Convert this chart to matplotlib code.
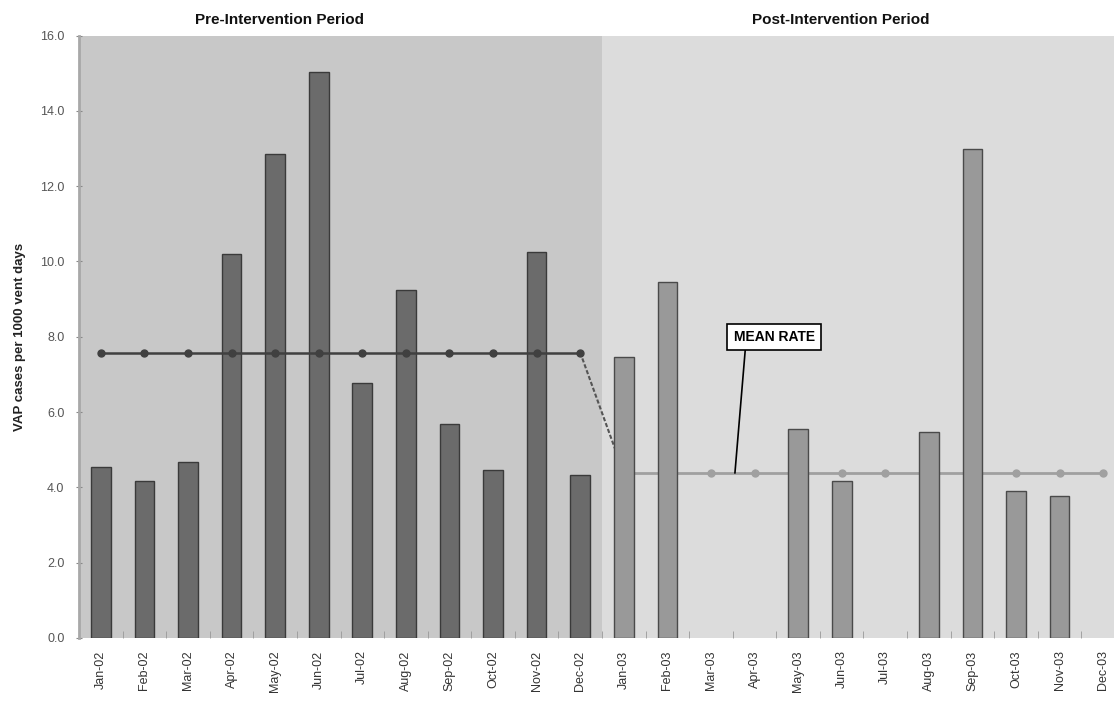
import matplotlib

matplotlib.use("Agg")
import matplotlib.pyplot as plt
from matplotlib.transforms import blended_transform_factory
import numpy as np

plt.rcParams["font.family"] = ["Liberation Sans", "DejaVu Sans"]

# data
months = ["Jan", "Feb", "Mar", "Apr", "May", "Jun",
          "Jul", "Aug", "Sep", "Oct", "Nov", "Dec"]
labels_pre = [m + "-02" for m in months]
labels_post = [m + "-03" for m in months]
rates_pre = [4.53, 4.17, 4.67, 10.19, 12.86, 15.03, 6.78, 9.24, 5.69, 4.46, 10.26, 4.33]
rates_post = [7.46, 9.45, 0, 0, 5.56, 4.18, 0, 5.48, 12.98, 3.91, 3.78, 0]
mean_pre = 7.58
mean_post = 4.38

labels = labels_pre + labels_post
n_pre = len(rates_pre)
x_pre = np.arange(n_pre)
x_post = np.arange(n_pre, n_pre + len(rates_post))

fig = plt.figure(figsize=(11.14, 7.05), dpi=100)
ax = fig.add_axes([79 / 1114, 1 - 638 / 705, 1046 / 1114, 602.5 / 705])

# period shading
ax.axvspan(-0.5, n_pre - 0.5, color="#c8c8c8", zorder=0, lw=0)
ax.axvspan(n_pre - 0.5, x_post[-1] + 0.5, color="#dcdcdc", zorder=0, lw=0)

# bars (no outline for empty months)
ax.bar(x_pre, rates_pre, width=0.45, color="#6b6b6b", edgecolor="#3a3a3a",
       linewidth=1.0, zorder=3)
ax.bar(x_post, rates_post, width=0.45, color="#999999", edgecolor="#4a4a4a",
       linewidth=[1.0 if v > 0 else 0 for v in rates_post], zorder=3)

# mean rate lines
ax.plot(x_pre, [mean_pre] * n_pre, color="#404040", lw=1.8, marker="o",
        markersize=5, zorder=4)
ax.plot([x_pre[-1], x_post[0]], [mean_pre, mean_post], color="#555555",
        lw=1.5, ls=(0, (2, 1)), zorder=2)
ax.plot(x_post, [mean_post] * len(x_post), color="#a0a0a0", lw=2, marker="o",
        markersize=5, zorder=2)

ax.annotate("MEAN RATE", xy=(14.55, mean_post), xytext=(15.45, 8.0),
            ha="center", va="center", fontsize=10, fontweight="bold",
            family=["Liberation Sans Narrow", "Liberation Sans", "DejaVu Sans"],
            bbox=dict(boxstyle="square,pad=0.45", fc="white", ec="black", lw=1.2),
            arrowprops=dict(arrowstyle="-", color="black", lw=1.2,
                            relpos=(0.15, 0), shrinkA=0, shrinkB=0),
            zorder=6)

# period titles
trans = blended_transform_factory(ax.transData, ax.transAxes)
ax.text(4.1, 1.025, "Pre-Intervention Period", transform=trans, ha="center",
        va="center", fontsize=11, fontweight="bold", color="#111111")
ax.text(16.97, 1.025, "Post-Intervention Period", transform=trans, ha="center",
        va="center", fontsize=11, fontweight="bold", color="#111111")

# axes
ax.set_xlim(-0.5, x_post[-1] + 0.5)
ax.set_ylim(0, 16)
ax.set_yticks(np.arange(0, 16.1, 2))
ax.set_yticklabels([f"{v:.1f}" for v in np.arange(0, 16.1, 2)])
ax.set_xticks(np.arange(len(labels)))
ax.set_xticklabels(labels, rotation=90, fontsize=9, color="#333333")
ax.set_xticks(np.arange(len(labels) + 1) - 0.5, minor=True)
ax.tick_params(axis="x", which="major", length=0, pad=9)
ax.tick_params(axis="x", which="minor", direction="in", length=5, color="#999999")
ax.tick_params(axis="y", direction="inout", length=5, color="#888888",
               labelsize=9, labelcolor="#555555", pad=8)
ax.set_ylabel("VAP cases per 1000 vent days", fontsize=9.5, fontweight="bold",
              color="#222222", labelpad=10)

for side in ["top", "right", "bottom"]:
    ax.spines[side].set_visible(False)
ax.spines["left"].set_color("#a8a8a8")
ax.spines["left"].set_linewidth(2)

fig.savefig("out.png", dpi=100, facecolor="white")
